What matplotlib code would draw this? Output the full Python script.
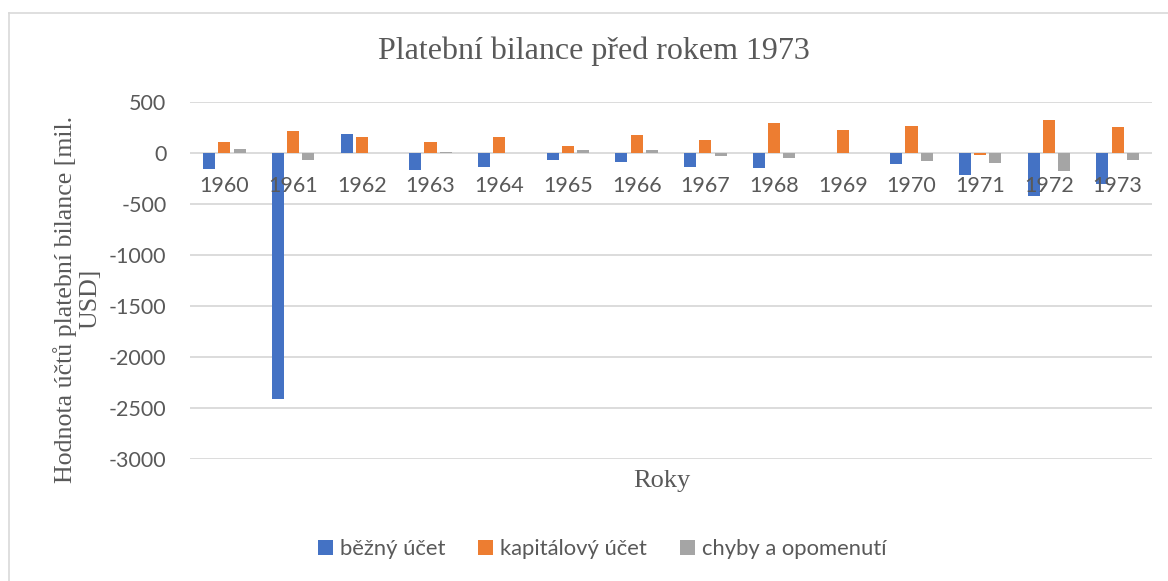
import numpy as np
import matplotlib
matplotlib.use("Agg")
import matplotlib.pyplot as plt
from matplotlib import transforms
from matplotlib.lines import Line2D
from matplotlib.patches import Patch

# -----------------------------
# Data (mil. USD)
# -----------------------------
years = ["1960", "1961", "1962", "1963", "1964", "1965", "1966",
         "1967", "1968", "1969", "1970", "1971", "1972", "1973"]
bezny_ucet = [-155, -2414, 185, -165, -139, -63, -86,
              -132, -142, 0, -106, -211, -416, -304]
kapitalovy_ucet = [110, 218, 155, 110, 155, 73, 182,
                   132, 300, 224, 270, -20, 330, 254]
chyby_opomenuti = [40, -63, 0, 17, 0, 33, 30,
                   -30, -46, 0, -79, -92, -175, -66]
series_names = ["běžný účet", "kapitálový účet", "chyby a opomenutí"]
y_ticks = [500, 0, -500, -1000, -1500, -2000, -2500, -3000]

colors = ["#4472C4", "#ED7D31", "#A5A5A5"]
text_color = "#595959"
grid_color = "#D9D9D9"
sans = ["Lato", "DejaVu Sans"]
serif = ["Liberation Serif", "DejaVu Serif"]

W, H = 1168, 581


def fx(px):
    return px / W


def fy(py):
    return 1 - py / H


def main():
    fig = plt.figure(figsize=(W / 100, H / 100), dpi=100)
    fig.patch.set_facecolor("white")

    # chart border (left + top visible in the crop)
    fig.add_artist(Line2D([fx(9), fx(9)], [0, fy(13)], color=grid_color,
                          lw=1.2, transform=fig.transFigure))
    fig.add_artist(Line2D([fx(9), 1], [fy(13), fy(13)], color=grid_color,
                          lw=1.2, transform=fig.transFigure))

    ax = fig.add_axes([fx(190), fy(459), fx(1152) - fx(190), fy(102.3) - fy(459)])
    x = np.arange(len(years))
    width = 0.175
    step = 0.221
    for i, vals in enumerate([bezny_ucet, kapitalovy_ucet, chyby_opomenuti]):
        ax.bar(x + (i - 1) * step, vals, width, color=colors[i], zorder=3)

    ax.set_xlim(-0.5, len(years) - 0.5)
    ax.set_ylim(-3000, 500)
    ax.set_yticks(y_ticks)
    ax.set_yticklabels([str(v) for v in y_ticks], family=sans, fontsize=15.5,
                       color=text_color)
    ax.tick_params(axis="y", length=0, pad=17)
    ax.set_xticks([])
    ax.grid(axis="y", color=grid_color, lw=1.3, zorder=0)
    for s in ax.spines.values():
        s.set_visible(False)

    # category labels sit just below the zero line
    off = transforms.offset_copy(ax.transData, fig=fig, y=-38.7 * 0.72, units="points")
    for xi, lab in zip(x, years):
        ax.text(xi, 0, lab, transform=off, ha="center", va="baseline",
                family=sans, fontsize=15.5, color=text_color, zorder=4)

    fig.text(fx(593.5), fy(51), "Platební bilance před rokem 1973", ha="center",
             va="center", family=serif, fontsize=23, color=text_color)
    fig.text(fx(662), fy(481), "Roky", ha="center", va="center",
             family=serif, fontsize=19, color=text_color)
    fig.text(fx(77), fy(299), "Hodnota účtů platební bilance [mil.\nUSD]",
             rotation=90, ha="center", va="center", multialignment="center",
             linespacing=1.15, family=serif, fontsize=18.6, color=text_color)

    handles = [Patch(facecolor=c) for c in colors]
    fig.legend(handles, series_names, loc="center", bbox_to_anchor=(fx(602), fy(549)),
               ncol=3, frameon=False, prop={"family": sans, "size": 15.8},
               labelcolor=text_color, handlelength=0.7, handleheight=0.7,
               handletextpad=0.3, columnspacing=1.5)

    fig.savefig("out.png", dpi=100, facecolor="white")
    plt.close(fig)


if __name__ == "__main__":
    main()
